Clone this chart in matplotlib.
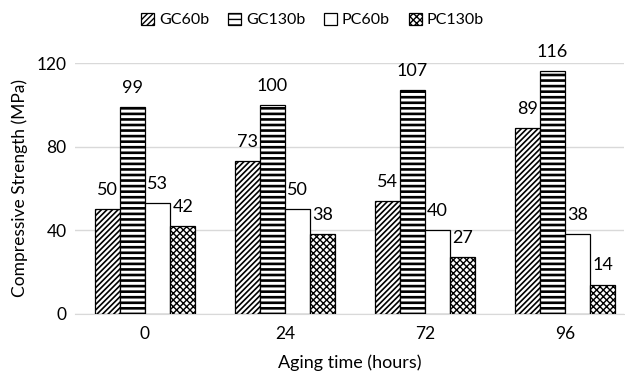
import matplotlib
matplotlib.use("Agg")
import matplotlib.pyplot as plt
import numpy as np

plt.rcParams['font.family'] = ['Lato', 'DejaVu Sans']

hours = ['0', '24', '72', '96']
series = ['GC60b', 'GC130b', 'PC60b', 'PC130b']
gc60b = [50, 73, 54, 89]
gc130b = [99, 100, 107, 116]
pc60b = [53, 50, 40, 38]
pc130b = [42, 38, 27, 14]
values = [gc60b, gc130b, pc60b, pc130b]
hatches = ['//////', '---', '', 'xxxxx']
hatch_lw = [1.2, 1.9, 0.8, 1.0]

fig = plt.figure(figsize=(6.25, 3.75), dpi=100)
ax = fig.add_axes([0.12, 0.163, 0.878, 0.669])

x = np.arange(len(hours))
w = 0.18
for i, (name, vals) in enumerate(zip(series, values)):
    plt.rcParams['hatch.linewidth'] = hatch_lw[i]
    bars = ax.bar(x + (i - 1.5) * w, vals, w, color='white', edgecolor='black',
                  linewidth=0.9, hatch=hatches[i], label=name, zorder=3)
    for b in bars:
        try:
            b.set_hatch_linewidth(hatch_lw[i])
        except AttributeError:
            pass
    for b, v in zip(bars, vals):
        ax.annotate(str(v), (b.get_x() + b.get_width() / 2, v), xytext=(0, 8),
                    textcoords='offset points', ha='center', va='bottom', fontsize=13)

ax.set_ylim(0, 120)
ax.set_yticks([0, 40, 80, 120])
ax.set_xlim(-0.5, 3.42)
ax.set_xticks(x)
ax.set_xticklabels(hours)
ax.grid(axis='y', color='#d9d9d9', linewidth=1, zorder=0)
for s in ['top', 'right', 'left']:
    ax.spines[s].set_visible(False)
ax.spines['bottom'].set_color('#d9d9d9')
ax.tick_params(axis='y', length=0, labelsize=12.5, pad=6)
ax.tick_params(axis='x', length=0, labelsize=12.5, pad=9)
ax.set_xlabel('Aging time (hours)', fontsize=13, labelpad=9)
ax.set_ylabel('Compressive Strength (MPa)', fontsize=12.5, labelpad=6)

fig.legend(loc='upper center', bbox_to_anchor=(0.5, 1.0), ncol=4, frameon=False,
           fontsize=11.5, handlelength=0.8, handleheight=0.8, handletextpad=0.3,
           columnspacing=1.2, borderaxespad=0.4)

fig.savefig('out.png', dpi=100)
